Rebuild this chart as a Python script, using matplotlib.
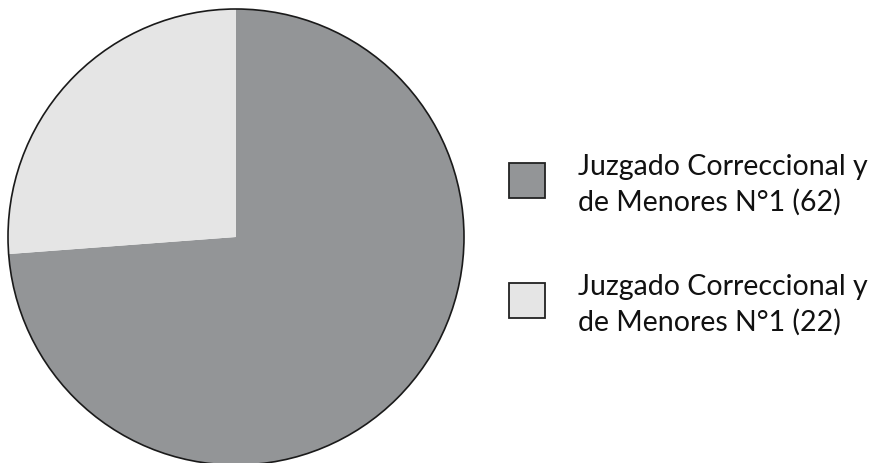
import matplotlib
matplotlib.use("Agg")
import matplotlib.pyplot as plt
from matplotlib.patches import Rectangle, Circle

labels = ["Juzgado Correccional y\nde Menores N°1 (62)",
          "Juzgado Correccional y\nde Menores N°1 (22)"]
values = [62, 22]
colors = ["#939597", "#e5e5e5"]

W, H = 873, 463
fig = plt.figure(figsize=(W / 100, H / 100), dpi=100)
ax = fig.add_axes([0, 0, 1, 1])
ax.set_xlim(0, W)
ax.set_ylim(0, H)
ax.set_aspect("equal")
ax.axis("off")

cx, cy, r = 236, H - 237, 228
ax.pie(values, colors=colors, startangle=90, counterclock=False,
       center=(cx, cy), radius=r, frame=True,
       wedgeprops=dict(linewidth=0))
ax.add_patch(Circle((cx, cy), r, fill=False, edgecolor="#1a1a1a", linewidth=1.2))
ax.set_xlim(0, W)
ax.set_ylim(0, H)
ax.axis("off")

box_tops = [163, 283]
for lab, col, top in zip(labels, colors, box_tops):
    ax.add_patch(Rectangle((509, H - top - 35), 36, 35, facecolor=col,
                           edgecolor="#222222", linewidth=1.3))
    ax.text(578, H - top + 9, lab, ha="left", va="top", fontsize=20.5,
            family="Lato", color="#111111", linespacing=1.42)

fig.savefig("out.png", dpi=100)
